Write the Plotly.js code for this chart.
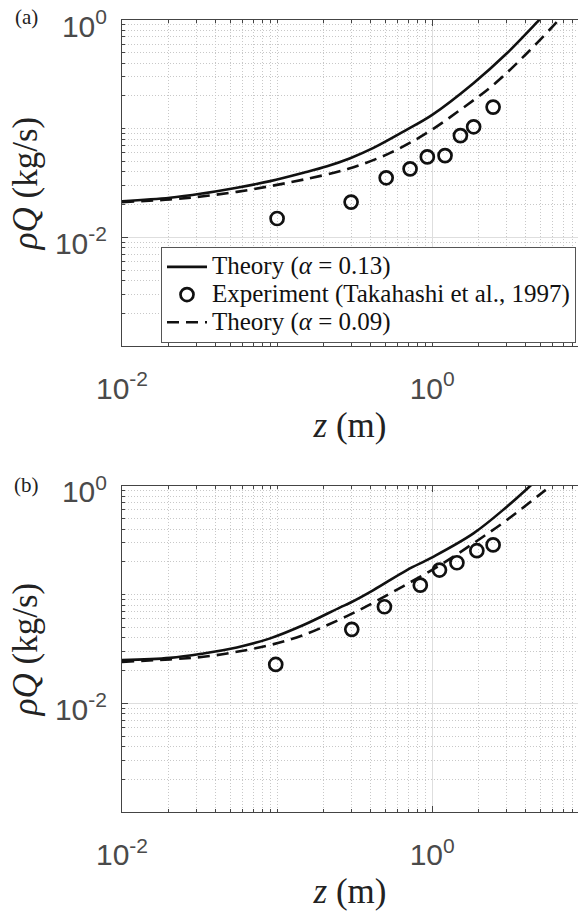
<!DOCTYPE html>
<html>
<head>
<meta charset="utf-8">
<script src="https://cdn.plot.ly/plotly-3.0.1.min.js"></script>
<style>html,body{margin:0;padding:0;background:#fff;} #chart{width:578px;height:913px;}</style>
</head>
<body>
<div id="chart"></div>
<script>
// ---- Panel (a) data ----
const zA_theory13 = [0.01, 0.0204, 0.0335, 0.055, 0.0902, 0.148, 0.21, 0.296, 0.418, 0.687, 1.0, 1.845, 3.03, 4.85, 5.0];
const qA_theory13 = [0.0215, 0.0231, 0.0254, 0.0286, 0.0329, 0.0393, 0.0451, 0.0535, 0.0665, 0.098, 0.134, 0.262, 0.494, 0.986, 1.03];
const zA_theory09 = [0.01, 0.0204, 0.0335, 0.055, 0.0902, 0.148, 0.288, 0.536, 0.924, 1.517, 2.48, 4.08, 6.38, 6.6];
const qA_theory09 = [0.0211, 0.0223, 0.0239, 0.0262, 0.0296, 0.0340, 0.0427, 0.0598, 0.0914, 0.149, 0.253, 0.494, 0.964, 1.02];
const zA_exp = [0.1, 0.3, 0.505, 0.72, 0.93, 1.21, 1.52, 1.85, 2.47];
const qA_exp = [0.0149, 0.0211, 0.0353, 0.0427, 0.055, 0.0565, 0.0863, 0.104, 0.158];

// ---- Panel (b) data ----
const zB_theory13 = [0.01, 0.0204, 0.0335, 0.055, 0.0902, 0.148, 0.255, 0.296, 0.418, 0.687, 1.0, 1.845, 3.03, 4.28, 4.4];
const qB_theory13 = [0.025, 0.0262, 0.0288, 0.0327, 0.0396, 0.0525, 0.0763, 0.0841, 0.110, 0.168, 0.220, 0.365, 0.641, 0.993, 1.03];
const zB_theory09 = [0.01, 0.0204, 0.0335, 0.055, 0.0902, 0.148, 0.282, 0.379, 0.653, 1.127, 1.845, 3.03, 5.11, 5.9];
const qB_theory09 = [0.0241, 0.0254, 0.0268, 0.0298, 0.0344, 0.0425, 0.0634, 0.0783, 0.1197, 0.1866, 0.296, 0.484, 0.862, 1.01];
const zB_exp = [0.098, 0.303, 0.492, 0.838, 1.114, 1.443, 1.94, 2.47];
const qB_exp = [0.0228, 0.0479, 0.0773, 0.122, 0.168, 0.196, 0.253, 0.286];

// ---- Tick labels ----
const xTickVals = [0.01, 1];
const xTickText = ['10<sup>-2</sup>', '10<sup>0</sup>'];
const yTickVals = [0.01, 1];
const yTickText = ['10<sup>-2</sup>', '10<sup>0</sup>'];

const legendNames = ['Theory (<i>α</i> = 0.13)', 'Experiment (Takahashi et al., 1997)', 'Theory (<i>α</i> = 0.09)'];

// minor ticks (k * 10^d)
function minorVals(d0, d1) {
  const out = [];
  for (let d = d0; d <= d1; d++) for (let k = 1; k <= 9; k++) out.push(k * Math.pow(10, d));
  return out;
}

const W = 578, H = 913;
const sans = '"Liberation Sans", Arial, sans-serif';
const serif = '"Liberation Serif", "Times New Roman", serif';
const tickColor = '#4a4a4a';

function xAxis(anchor) {
  return {
    type: 'log', range: [-2, 0.94], domain: [122 / W, 1], anchor: anchor,
    tickmode: 'array', tickvals: xTickVals, ticktext: xTickText,
    tickfont: {family: sans, size: 30, color: tickColor},
    ticks: 'inside', ticklen: 6, tickcolor: '#444', tickwidth: 1,
    ticklabelstandoff: 16, ticklabeloverflow: 'allow',
    showline: true, linecolor: '#444', linewidth: 1, mirror: 'ticks',
    showgrid: true, gridcolor: '#dedede', gridwidth: 1,
    minor: {tickmode: 'array', tickvals: minorVals(-2, 0), ticks: 'inside', ticklen: 3, tickcolor: '#444',
            showgrid: true, gridcolor: '#c8c8c8', griddash: '1px,2px', gridwidth: 1},
    zeroline: false,
    title: {text: '<i>z</i> (m)', font: {family: serif, size: 35, color: '#222'}, standoff: 8}
  };
}
function yAxis(anchor, dom) {
  return {
    type: 'log', range: [-3, 0], domain: dom, anchor: anchor,
    tickmode: 'array', tickvals: yTickVals, ticktext: yTickText,
    tickfont: {family: sans, size: 30, color: tickColor},
    ticks: 'inside', ticklen: 6, tickcolor: '#444', tickwidth: 1,
    ticklabelstandoff: 8, ticklabelshift: 6, ticklabeloverflow: 'allow',
    showline: true, linecolor: '#444', linewidth: 1, mirror: false,
    showgrid: true, gridcolor: '#dedede', gridwidth: 1,
    minor: {tickmode: 'array', tickvals: minorVals(-3, -1), ticks: 'inside', ticklen: 3, tickcolor: '#444',
            showgrid: true, gridcolor: '#c8c8c8', griddash: '1px,2px', gridwidth: 1},
    zeroline: false,
    title: {text: '<i>ρQ</i> (kg/s)', font: {family: serif, size: 35, color: '#222'}, standoff: 6}
  };
}

const lineSolid = {color: '#111', width: 2.6, shape: 'spline'};
const lineDash = {color: '#111', width: 2.6, dash: '12px,7px', shape: 'spline'};
const marker = {symbol: 'circle-open', size: 13, color: '#111', line: {width: 2.7, color: '#111'}};

function big(s) { return '<span style="font-size:25px">' + s + '</span>'; }

const data = [
  {x: zA_theory13, y: qA_theory13, mode: 'lines', line: lineSolid, name: big(legendNames[0]), xaxis: 'x', yaxis: 'y'},
  {x: zA_exp, y: qA_exp, mode: 'markers', marker: marker, name: big(legendNames[1]), xaxis: 'x', yaxis: 'y'},
  {x: zA_theory09, y: qA_theory09, mode: 'lines', line: lineDash, name: big(legendNames[2]), xaxis: 'x', yaxis: 'y'},
  {x: zB_theory13, y: qB_theory13, mode: 'lines', line: lineSolid, name: legendNames[0], xaxis: 'x2', yaxis: 'y2', showlegend: false},
  {x: zB_exp, y: qB_exp, mode: 'markers', marker: marker, name: legendNames[1], xaxis: 'x2', yaxis: 'y2', showlegend: false},
  {x: zB_theory09, y: qB_theory09, mode: 'lines', line: lineDash, name: legendNames[2], xaxis: 'x2', yaxis: 'y2', showlegend: false}
];

const layout = {
  width: W, height: H,
  margin: {l: 0, r: 0, t: 0, b: 0},
  paper_bgcolor: '#fff', plot_bgcolor: '#fff',
  showlegend: true,
  legend: {
    x: 161 / W, y: 1 - 247 / H, xanchor: 'left', yanchor: 'top',
    bgcolor: '#fff', bordercolor: '#555', borderwidth: 1,
    font: {family: serif, size: 19, color: '#111'},
    itemwidth: 40, tracegroupgap: 0
  },
  xaxis: xAxis('y'),
  yaxis: yAxis('x', [1 - 346 / H, 1 - 20 / H]),
  xaxis2: xAxis('y2'),
  yaxis2: yAxis('x2', [1 - 812.3 / H, 1 - 485.7 / H]),
  annotations: [
    {text: '(a)', xref: 'paper', yref: 'paper', x: 26 / W, y: 1 - 17 / H, xanchor: 'center', yanchor: 'middle', showarrow: false,
     font: {family: serif, size: 21, color: '#222'}},
    {text: '(b)', xref: 'paper', yref: 'paper', x: 26 / W, y: 1 - 485 / H, xanchor: 'center', yanchor: 'middle', showarrow: false,
     font: {family: serif, size: 21, color: '#222'}}
  ]
};

Plotly.newPlot('chart', data, layout, {displayModeBar: false, staticPlot: true});
</script>
</body>
</html>
